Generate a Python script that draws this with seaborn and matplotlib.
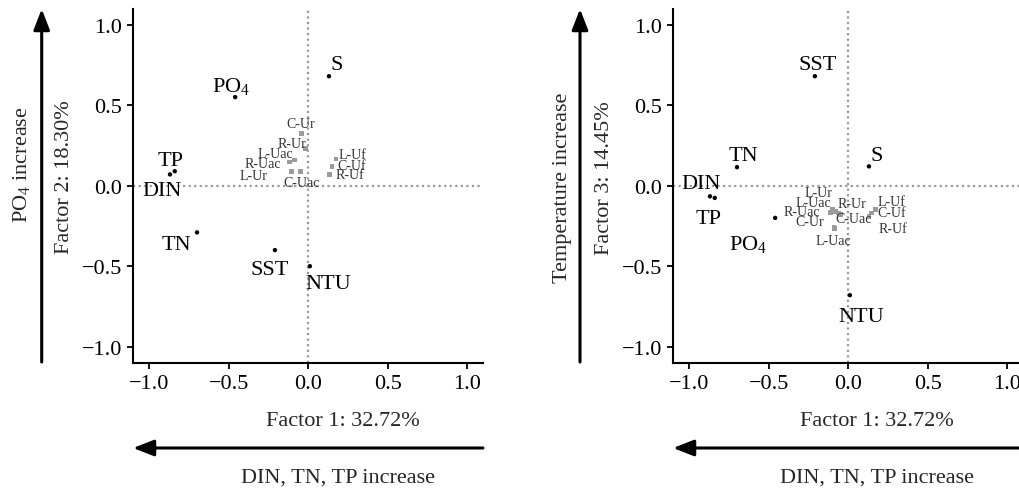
import matplotlib
matplotlib.use("Agg")
import matplotlib.pyplot as plt
import seaborn as sns
import pandas as pd

# ---------------- data ----------------
var_names = ["S", "PO$_\\mathregular{4}$", "TP", "DIN", "TN", "SST", "NTU"]
var_f1 = [0.13, -0.46, -0.84, -0.87, -0.70, -0.21, 0.01]
var_f2 = [0.68, 0.55, 0.09, 0.07, -0.29, -0.40, -0.50]
var_f3 = [0.12, -0.20, -0.076, -0.066, 0.115, 0.68, -0.68]

site_names = ["C-Ur", "R-Ur", "L-Uac", "R-Uac", "L-Ur", "C-Uac", "L-Uf", "C-Uf", "R-Uf"]
site_f1 = [-0.045, -0.02, -0.087, -0.116, -0.106, -0.05, 0.174, 0.149, 0.132]
site_f2 = [0.325, 0.23, 0.16, 0.147, 0.089, 0.089, 0.166, 0.12, 0.068]

site2_names = ["L-Ur", "L-Uac", "R-Uac", "C-Ur", "L-Uac", "R-Ur", "C-Uac", "L-Uf", "C-Uf", "R-Uf"]
site2_f1 = [-0.10, -0.08, -0.11, -0.09, -0.085, -0.06, -0.05, 0.17, 0.145, 0.13]
site2_f3 = [-0.15, -0.16, -0.165, -0.26, -0.265, -0.17, -0.18, -0.15, -0.17, -0.19]

xlabel = "Factor 1: 32.72%"
ylabel_left = "Factor 2: 18.30%"
ylabel_right = "Factor 3: 14.45%"
arrow_x_text = "DIN, TN, TP increase"
arrow_y_left = "PO$_\\mathregular{4}$ increase"
arrow_y_right = "Temperature increase"
ticks = [-1.0, -0.5, 0.0, 0.5, 1.0]

# ---------------- label offsets (pixels) ----------------
var_off_left = [(8, 12), (-4, 11), (-4, 11), (-8, -16), (-21, -12), (-5, -19), (18, -17)]
var_off_right = [(8, 11), (-27, -26), (-6, -21), (-9, 13), (6, 12), (3, 12), (11, -21)]
site_off_left = [(0, 10), (-13, 5), (-19, 6), (-27, -1), (-38, -4), (1, -11), (17, 4), (20, 1), (21, 0)]
site_off_right = [(-14, 17), (-22, 9), (-29, 1), (-24, 6), (-1, -12), (13, 10), (13, -4), (16, 8), (20, 1), (24, -12)]

# ---------------- style ----------------
sns.set_style("ticks")
plt.rcParams["font.family"] = ["Liberation Serif", "DejaVu Serif"]
plt.rcParams["mathtext.fontset"] = "custom"
plt.rcParams["mathtext.rm"] = "Liberation Serif"
plt.rcParams["axes.unicode_minus"] = True

W, H = 1020, 489
fig = plt.figure(figsize=(W / 100, H / 100), dpi=100)

FS = 16
GRAY_SQ = "#9a9a9a"
GRAY_TXT = "#333333"


def make_panel(rect, xlim, vy, sy, snames, sx, voffs, soffs):
    ax = fig.add_axes(rect)
    ax.set_xlim(*xlim)
    ax.set_ylim(-1.1, 1.1)
    ax.axhline(0, color="#999999", ls=(0, (1, 1.5)), lw=1.6, zorder=0)
    ax.axvline(0, color="#999999", ls=(0, (1, 1.5)), lw=1.6, zorder=0)
    dv = pd.DataFrame({"f1": var_f1, "fy": vy})
    ds = pd.DataFrame({"f1": sx, "fy": sy})
    sns.scatterplot(data=ds, x="f1", y="fy", ax=ax, marker="s", s=12,
                    color=GRAY_SQ, edgecolor="none", zorder=2)
    sns.scatterplot(data=dv, x="f1", y="fy", ax=ax, marker="o", s=10,
                    color="black", edgecolor="none", zorder=3)
    for n, x, y, o in zip(var_names, var_f1, vy, voffs):
        ax.annotate(n, (x, y), xytext=o, textcoords="offset pixels",
                    ha="center", va="center", fontsize=FS, color="black", zorder=4)
    for n, x, y, o in zip(snames, sx, sy, soffs):
        ax.annotate(n, (x, y), xytext=o, textcoords="offset pixels",
                    ha="center", va="center", fontsize=10, color=GRAY_TXT, zorder=4)
    ax.set_xticks(ticks)
    ax.set_yticks(ticks)
    ax.set_xticklabels([f"{t:.1f}".replace("-", "\u2212") for t in ticks])
    ax.set_yticklabels([f"{t:.1f}".replace("-", "\u2212") for t in ticks])
    ax.tick_params(labelsize=FS, length=4, width=1.3, pad=4, colors="black")
    ax.set_xlabel("")
    ax.set_ylabel("")
    for s in ["top", "right"]:
        ax.spines[s].set_visible(False)
    for s in ["left", "bottom"]:
        ax.spines[s].set_linewidth(1.5)
        ax.spines[s].set_color("black")
    return ax


def px(x, y_img):
    return (x / W, 1 - y_img / H)


ax1 = make_panel([133.4 / W, 1 - 363.8 / H, 349.8 / W, 354.2 / H], (-1.1, 1.1),
                 var_f2, site_f2, site_names, site_f1, var_off_left, site_off_left)
ax2 = make_panel([673.4 / W, 1 - 363.8 / H, 346.6 / W, 354.2 / H], (-1.1, 1.08),
                 var_f3, site2_f3, site2_names, site2_f1, var_off_right, site_off_right)

# axis labels
fig.text(*px(343, 422), xlabel, ha="center", va="center", fontsize=FS)
fig.text(*px(877, 422), xlabel, ha="center", va="center", fontsize=FS)
fig.text(*px(65, 177), ylabel_left, ha="center", va="center", fontsize=FS, rotation=90)
fig.text(*px(605, 178), ylabel_right, ha="center", va="center", fontsize=FS, rotation=90)

# arrows
arrow_kw = dict(arrowstyle="-|>,head_length=0.9,head_width=0.35", color="black", lw=2.2,
                shrinkA=0, shrinkB=0)
for (x0, y0, x1, y1) in [(41.7, 363, 41.7, 10), (580, 363, 580, 10),
                         (483, 449, 133, 449), (1020, 449, 673, 449)]:
    fig.add_artist(matplotlib.patches.FancyArrowPatch(px(x0, y0), px(x1, y1),
                                                      transform=fig.transFigure,
                                                      mutation_scale=14, **arrow_kw))

fig.text(*px(22, 165), arrow_y_left, ha="center", va="center", fontsize=FS, rotation=90)
fig.text(*px(562, 188), arrow_y_right, ha="center", va="center", fontsize=FS, rotation=90)
fig.text(*px(338, 478), arrow_x_text, ha="center", va="center", fontsize=FS)
fig.text(*px(877, 478), arrow_x_text, ha="center", va="center", fontsize=FS)

fig.savefig("out.png", dpi=100)
